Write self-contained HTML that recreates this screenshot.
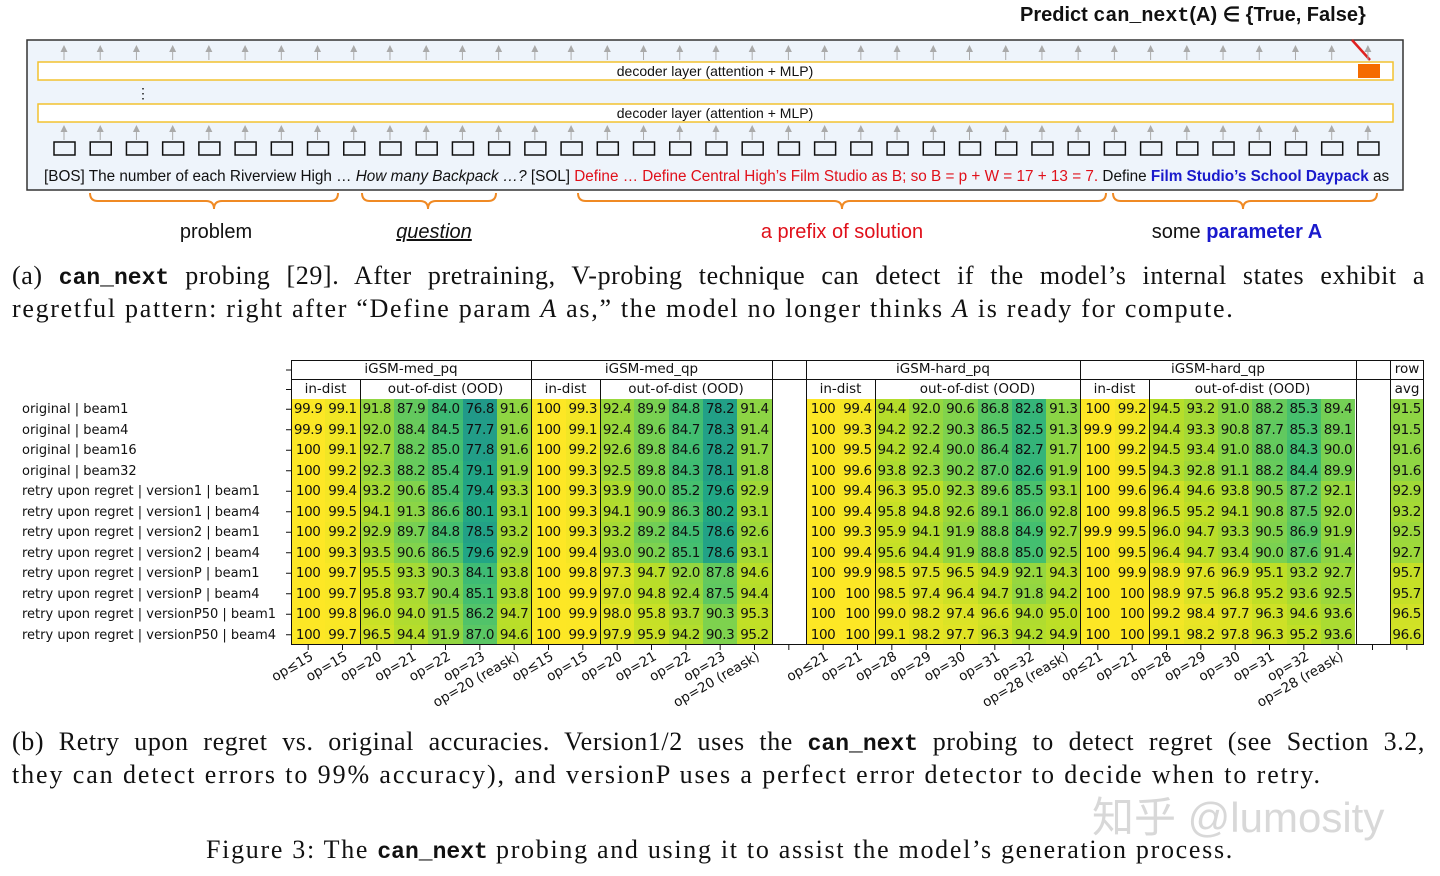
<!DOCTYPE html>
<html><head><meta charset="utf-8"><style>
*{margin:0;padding:0;box-sizing:border-box}
body{width:1440px;height:876px;background:#fff;position:relative;overflow:hidden;font-family:"Liberation Sans",sans-serif}
.abs{position:absolute;white-space:nowrap}
.cap{position:absolute;left:12px;width:1413px;font-family:"Liberation Serif",serif;font-size:26px;color:#111;white-space:nowrap;letter-spacing:1.7px}
.j{text-align:justify;text-align-last:justify;letter-spacing:0.6px}
.tt{font-family:"Liberation Mono",monospace;font-weight:bold;font-size:23px;letter-spacing:0}
.hm{position:absolute;left:291px;top:399px;font-family:"DejaVu Sans",sans-serif;font-size:13.5px;color:#111}
.r{display:flex;height:20.5px}
.r span{width:34.333px;flex:none;text-align:center;line-height:20.5px;letter-spacing:-0.4px}
.r span.g{background:#fff}
.rl{position:absolute;left:22px;font-family:"DejaVu Sans",sans-serif;font-size:13px;color:#111;line-height:20.5px}
.vl{position:absolute;width:1.4px;background:#111}
.hl{position:absolute;height:1.4px;background:#111}
.hd{position:absolute;font-family:"DejaVu Sans",sans-serif;font-size:13.5px;color:#111;text-align:center;line-height:19px}
</style></head><body>

<svg class="abs" style="left:0;top:0" width="1440" height="250">
<text x="1020" y="21" font-family="Liberation Sans" font-weight="bold" font-size="20" fill="#111">Predict <tspan font-family="Liberation Mono">can_next</tspan>(A) ∈ {True, False}</text>
<rect x="27" y="40" width="1376" height="150" fill="#eef4fb" stroke="#333" stroke-width="1.5"/>
<rect x="38" y="62" width="1355" height="18" fill="#fff" stroke="#f2c230" stroke-width="1.5"/>
<rect x="38" y="104" width="1355" height="18" fill="#fff" stroke="#f2c230" stroke-width="1.5"/>
<text x="715" y="76" font-size="14" text-anchor="middle" fill="#111">decoder layer (attention + MLP)</text>
<text x="715" y="118" font-size="14" text-anchor="middle" fill="#111">decoder layer (attention + MLP)</text>
<text x="136" y="98" font-size="14" fill="#111">⋮</text>
<rect x="1358" y="64" width="22" height="14" fill="#f56b00"/>
<line x1="1352" y1="40" x2="1370" y2="60" stroke="#e02020" stroke-width="2.5"/>
<g id="tok" fill="none" stroke="#111" stroke-width="1.5"></g>
<g id="arr" stroke="#aaa" fill="#aaa"></g>
<text x="44" y="181" font-size="15.3" fill="#111">[BOS] The number of each Riverview High … <tspan font-style="italic">How many Backpack …?</tspan> [SOL] <tspan fill="#e0101a">Define … Define Central High’s Film Studio as B; so B = p + W = 17 + 13 = 7.</tspan> Define <tspan fill="#1a1acc" font-weight="bold">Film Studio’s School Daypack</tspan> as</text>
<g fill="none" stroke="#f08a24" stroke-width="2">
<path d="M90 193 q0 8 8 8 h108 q8 0 8 8 q0-8 8-8 h108 q8 0 8-8"/>
<path d="M362 193 q0 8 8 8 h50 q8 0 8 8 q0-8 8-8 h52 q8 0 8-8"/>
<path d="M578 193 q0 8 8 8 h248 q8 0 8 8 q0-8 8-8 h248 q8 0 8-8"/>
<path d="M1113 193 q0 8 8 8 h114 q8 0 8 8 q0-8 8-8 h118 q8 0 8-8"/>
</g>
<text x="216" y="238" font-size="20" text-anchor="middle" fill="#111">problem</text>
<text x="434" y="238" font-size="20" text-anchor="middle" font-style="italic" text-decoration="underline" fill="#111">question</text>
<text x="842" y="238" font-size="20" text-anchor="middle" fill="#e0101a">a prefix of solution</text>
<text x="1237" y="238" font-size="20" text-anchor="middle" fill="#111">some <tspan fill="#1a1acc" font-weight="bold">parameter A</tspan></text>
</svg>
<script>
(function(){var t=document.getElementById('tok'),a=document.getElementById('arr'),h1='',h2='';
for(var i=0;i<37;i++){var c=64+i*36.22;
h1+='<rect x="'+(c-10)+'" y="142" width="21" height="13"/>';
h2+='<line x1="'+c+'" y1="60" x2="'+c+'" y2="50"/><polygon points="'+(c-3.5)+',52 '+(c+3.5)+',52 '+c+',45" stroke="none"/>';
h2+='<line x1="'+c+'" y1="140" x2="'+c+'" y2="130"/><polygon points="'+(c-3.5)+',132 '+(c+3.5)+',132 '+c+',125" stroke="none"/>';}
t.innerHTML=h1;a.innerHTML=h2;})();
</script>

<div class="cap j" style="top:261px">(a) <span class="tt">can_next</span> probing [29]. After pretraining, V-probing technique can detect if the model’s internal states exhibit a</div>
<div class="cap" style="top:294px">regretful pattern: right after “Define param <i>A</i> as,” the model no longer thinks <i>A</i> is ready for compute.</div>

<div class="hd" style="left:291px;top:360px;width:240px">iGSM-med_pq</div>
<div class="hd" style="left:531px;top:360px;width:241px">iGSM-med_qp</div>
<div class="hd" style="left:806px;top:360px;width:274px">iGSM-hard_pq</div>
<div class="hd" style="left:1080px;top:360px;width:276px">iGSM-hard_qp</div>
<div class="hd" style="left:1390px;top:360px;width:34px">row</div>
<div class="hd" style="left:291px;top:380px;width:69px">in-dist</div>
<div class="hd" style="left:360px;top:380px;width:171px">out-of-dist (OOD)</div>
<div class="hd" style="left:531px;top:380px;width:69px">in-dist</div>
<div class="hd" style="left:600px;top:380px;width:172px">out-of-dist (OOD)</div>
<div class="hd" style="left:806px;top:380px;width:69px">in-dist</div>
<div class="hd" style="left:875px;top:380px;width:205px">out-of-dist (OOD)</div>
<div class="hd" style="left:1080px;top:380px;width:69px">in-dist</div>
<div class="hd" style="left:1149px;top:380px;width:207px">out-of-dist (OOD)</div>
<div class="hd" style="left:1390px;top:380px;width:34px">avg</div>

<div class="rl" style="top:400px">original | beam1<br>original | beam4<br>original | beam16<br>original | beam32<br>retry upon regret | version1 | beam1<br>retry upon regret | version1 | beam4<br>retry upon regret | version2 | beam1<br>retry upon regret | version2 | beam4<br>retry upon regret | versionP | beam1<br>retry upon regret | versionP | beam4<br>retry upon regret | versionP50 | beam1<br>retry upon regret | versionP50 | beam4</div>

<div class="hm" id="hm">
<div class="r"><span>99.9</span><span>99.1</span><span>91.8</span><span>87.9</span><span>84.0</span><span>76.8</span><span>91.6</span><span>100</span><span>99.3</span><span>92.4</span><span>89.9</span><span>84.8</span><span>78.2</span><span>91.4</span><span class="g"></span><span>100</span><span>99.4</span><span>94.4</span><span>92.0</span><span>90.6</span><span>86.8</span><span>82.8</span><span>91.3</span><span>100</span><span>99.2</span><span>94.5</span><span>93.2</span><span>91.0</span><span>88.2</span><span>85.3</span><span>89.4</span><span class="g"></span><span>91.5</span></div>
<div class="r"><span>99.9</span><span>99.1</span><span>92.0</span><span>88.4</span><span>84.5</span><span>77.7</span><span>91.6</span><span>100</span><span>99.1</span><span>92.4</span><span>89.6</span><span>84.7</span><span>78.3</span><span>91.4</span><span class="g"></span><span>100</span><span>99.3</span><span>94.2</span><span>92.2</span><span>90.3</span><span>86.5</span><span>82.5</span><span>91.3</span><span>99.9</span><span>99.2</span><span>94.4</span><span>93.3</span><span>90.8</span><span>87.7</span><span>85.3</span><span>89.1</span><span class="g"></span><span>91.5</span></div>
<div class="r"><span>100</span><span>99.1</span><span>92.7</span><span>88.2</span><span>85.0</span><span>77.8</span><span>91.6</span><span>100</span><span>99.2</span><span>92.6</span><span>89.8</span><span>84.6</span><span>78.2</span><span>91.7</span><span class="g"></span><span>100</span><span>99.5</span><span>94.2</span><span>92.4</span><span>90.0</span><span>86.4</span><span>82.7</span><span>91.7</span><span>100</span><span>99.2</span><span>94.5</span><span>93.4</span><span>91.0</span><span>88.0</span><span>84.3</span><span>90.0</span><span class="g"></span><span>91.6</span></div>
<div class="r"><span>100</span><span>99.2</span><span>92.3</span><span>88.2</span><span>85.4</span><span>79.1</span><span>91.9</span><span>100</span><span>99.3</span><span>92.5</span><span>89.8</span><span>84.3</span><span>78.1</span><span>91.8</span><span class="g"></span><span>100</span><span>99.6</span><span>93.8</span><span>92.3</span><span>90.2</span><span>87.0</span><span>82.6</span><span>91.9</span><span>100</span><span>99.5</span><span>94.3</span><span>92.8</span><span>91.1</span><span>88.2</span><span>84.4</span><span>89.9</span><span class="g"></span><span>91.6</span></div>
<div class="r"><span>100</span><span>99.4</span><span>93.2</span><span>90.6</span><span>85.4</span><span>79.4</span><span>93.3</span><span>100</span><span>99.3</span><span>93.9</span><span>90.0</span><span>85.2</span><span>79.6</span><span>92.9</span><span class="g"></span><span>100</span><span>99.4</span><span>96.3</span><span>95.0</span><span>92.3</span><span>89.6</span><span>85.5</span><span>93.1</span><span>100</span><span>99.6</span><span>96.4</span><span>94.6</span><span>93.8</span><span>90.5</span><span>87.2</span><span>92.1</span><span class="g"></span><span>92.9</span></div>
<div class="r"><span>100</span><span>99.5</span><span>94.1</span><span>91.3</span><span>86.6</span><span>80.1</span><span>93.1</span><span>100</span><span>99.3</span><span>94.1</span><span>90.9</span><span>86.3</span><span>80.2</span><span>93.1</span><span class="g"></span><span>100</span><span>99.4</span><span>95.8</span><span>94.8</span><span>92.6</span><span>89.1</span><span>86.0</span><span>92.8</span><span>100</span><span>99.8</span><span>96.5</span><span>95.2</span><span>94.1</span><span>90.8</span><span>87.5</span><span>92.0</span><span class="g"></span><span>93.2</span></div>
<div class="r"><span>100</span><span>99.2</span><span>92.9</span><span>89.7</span><span>84.8</span><span>78.5</span><span>93.2</span><span>100</span><span>99.3</span><span>93.2</span><span>89.2</span><span>84.5</span><span>78.6</span><span>92.6</span><span class="g"></span><span>100</span><span>99.3</span><span>95.9</span><span>94.1</span><span>91.9</span><span>88.8</span><span>84.9</span><span>92.7</span><span>99.9</span><span>99.5</span><span>96.0</span><span>94.7</span><span>93.3</span><span>90.5</span><span>86.9</span><span>91.9</span><span class="g"></span><span>92.5</span></div>
<div class="r"><span>100</span><span>99.3</span><span>93.5</span><span>90.6</span><span>86.5</span><span>79.6</span><span>92.9</span><span>100</span><span>99.4</span><span>93.0</span><span>90.2</span><span>85.1</span><span>78.6</span><span>93.1</span><span class="g"></span><span>100</span><span>99.4</span><span>95.6</span><span>94.4</span><span>91.9</span><span>88.8</span><span>85.0</span><span>92.5</span><span>100</span><span>99.5</span><span>96.4</span><span>94.7</span><span>93.4</span><span>90.0</span><span>87.6</span><span>91.4</span><span class="g"></span><span>92.7</span></div>
<div class="r"><span>100</span><span>99.7</span><span>95.5</span><span>93.3</span><span>90.3</span><span>84.1</span><span>93.8</span><span>100</span><span>99.8</span><span>97.3</span><span>94.7</span><span>92.0</span><span>87.8</span><span>94.6</span><span class="g"></span><span>100</span><span>99.9</span><span>98.5</span><span>97.5</span><span>96.5</span><span>94.9</span><span>92.1</span><span>94.3</span><span>100</span><span>99.9</span><span>98.9</span><span>97.6</span><span>96.9</span><span>95.1</span><span>93.2</span><span>92.7</span><span class="g"></span><span>95.7</span></div>
<div class="r"><span>100</span><span>99.7</span><span>95.8</span><span>93.7</span><span>90.4</span><span>85.1</span><span>93.8</span><span>100</span><span>99.9</span><span>97.0</span><span>94.8</span><span>92.4</span><span>87.5</span><span>94.4</span><span class="g"></span><span>100</span><span>100</span><span>98.5</span><span>97.4</span><span>96.4</span><span>94.7</span><span>91.8</span><span>94.2</span><span>100</span><span>100</span><span>98.9</span><span>97.5</span><span>96.8</span><span>95.2</span><span>93.6</span><span>92.5</span><span class="g"></span><span>95.7</span></div>
<div class="r"><span>100</span><span>99.8</span><span>96.0</span><span>94.0</span><span>91.5</span><span>86.2</span><span>94.7</span><span>100</span><span>99.9</span><span>98.0</span><span>95.8</span><span>93.7</span><span>90.3</span><span>95.3</span><span class="g"></span><span>100</span><span>100</span><span>99.0</span><span>98.2</span><span>97.4</span><span>96.6</span><span>94.0</span><span>95.0</span><span>100</span><span>100</span><span>99.2</span><span>98.4</span><span>97.7</span><span>96.3</span><span>94.6</span><span>93.6</span><span class="g"></span><span>96.5</span></div>
<div class="r"><span>100</span><span>99.7</span><span>96.5</span><span>94.4</span><span>91.9</span><span>87.0</span><span>94.6</span><span>100</span><span>99.9</span><span>97.9</span><span>95.9</span><span>94.2</span><span>90.3</span><span>95.2</span><span class="g"></span><span>100</span><span>100</span><span>99.1</span><span>98.2</span><span>97.7</span><span>96.3</span><span>94.2</span><span>94.9</span><span>100</span><span>100</span><span>99.1</span><span>98.2</span><span>97.8</span><span>96.3</span><span>95.2</span><span>93.6</span><span class="g"></span><span>96.6</span></div>
</div>

<div class="hl" style="left:291px;top:360px;width:1133px"></div>
<div class="hl" style="left:291px;top:379px;width:1133px"></div>
<div class="hl" style="left:291px;top:644px;width:1133px"></div>
<div class="vl" style="left:291px;top:360px;height:285px"></div>
<div class="vl" style="left:531px;top:360px;height:285px"></div>
<div class="vl" style="left:772px;top:360px;height:285px"></div>
<div class="vl" style="left:806px;top:360px;height:285px"></div>
<div class="vl" style="left:1080px;top:360px;height:285px"></div>
<div class="vl" style="left:1356px;top:360px;height:285px"></div>
<div class="vl" style="left:1390px;top:360px;height:285px"></div>
<div class="vl" style="left:1423px;top:360px;height:285px"></div>
<div class="vl" style="left:360px;top:379px;height:266px"></div>
<div class="vl" style="left:600px;top:379px;height:266px"></div>
<div class="vl" style="left:875px;top:379px;height:266px"></div>
<div class="vl" style="left:1149px;top:379px;height:266px"></div>

<svg class="abs" style="left:0;top:350px" width="1440" height="370" id="ax"></svg>
<script>
(function(){
var stops=['#440154','#482475','#414487','#355f8d','#2a788e','#21918c','#22a884','#44bf70','#7ad151','#bddf26','#fde725'];
function hx(s){return [parseInt(s.substr(1,2),16),parseInt(s.substr(3,2),16),parseInt(s.substr(5,2),16)]}
function cm(t){t=Math.max(0,Math.min(1,t))*10;var i=Math.min(9,Math.floor(t)),f=t-i,a=hx(stops[i]),b=hx(stops[i+1]);
return 'rgb('+a.map(function(v,k){return Math.round(v+(b[k]-v)*f)}).join(',')+')'}
document.querySelectorAll('#hm span').forEach(function(s){if(s.className=='g')return;var v=parseFloat(s.textContent);s.style.background=cm((v-50)/50);});
var ax=document.getElementById('ax'),h='';
var med=['op≤15','op=15','op=20','op=21','op=22','op=23','op=20 (reask)'],hard=['op≤21','op=21','op=28','op=29','op=30','op=31','op=32','op=28 (reask)'];
var labs=med.concat(med,[''],hard,hard,['','']);
for(var i=0;i<33;i++){var c=291+(i+0.5)*34.333;h+='<line x1="'+c+'" y1="295" x2="'+c+'" y2="300" stroke="#111"/>';
if(labs[i])h+='<text transform="translate('+(c+6)+',309) rotate(-30)" text-anchor="end" font-family="DejaVu Sans" font-size="13.5" fill="#111">'+labs[i]+'</text>';}
for(var r=0;r<14;r++){var y=r<2?(20+r*19.5):(49+(r-2)*20.5+10.25);h+='<line x1="286" y1="'+y+'" x2="291" y2="'+y+'" stroke="#111"/>';}
ax.innerHTML=h;})();
</script>

<div class="cap j" style="top:727px">(b) Retry upon regret vs. original accuracies. Version1/2 uses the <span class="tt">can_next</span> probing to detect regret (see Section 3.2,</div>
<div class="cap" style="top:760px;letter-spacing:1.9px">they can detect errors to 99% accuracy), and versionP uses a perfect error detector to decide when to retry.</div>
<div class="abs" style="left:1092px;top:784px;font-family:'Liberation Sans','Noto Sans CJK SC',sans-serif;font-size:42px;color:#d8d8d8">知乎 @lumosity</div>
<div class="cap" style="top:835px;text-align:center;left:0;width:1440px">Figure 3: The <span class="tt">can_next</span> probing and using it to assist the model’s generation process.</div>
</body></html>
